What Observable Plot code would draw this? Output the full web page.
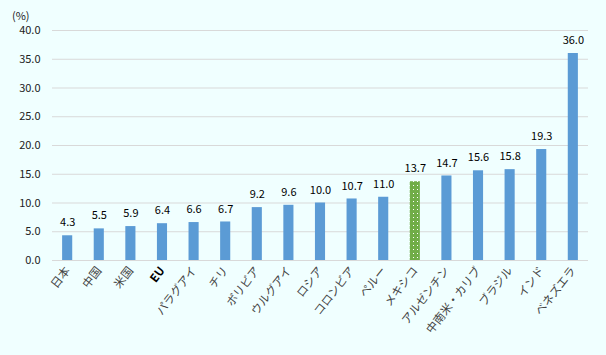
<!DOCTYPE html>
<html><head><meta charset="utf-8">
<script src="https://cdn.jsdelivr.net/npm/d3@7"></script>
<script src="https://cdn.jsdelivr.net/npm/@observablehq/plot@0.6"></script>
<style>
html,body{margin:0;padding:0;background:#f0ffff;}
#chart{position:relative;width:606px;height:355px;}
#unit{position:absolute;left:12px;top:7px;font:11px "Noto Sans CJK JP",sans-serif;color:#222;}
</style></head>
<body><div id="chart"><div id="unit">(%)</div></div>
<script>
const categories = ["日本","中国","米国","EU","パラグアイ","チリ","ボリビア","ウルグアイ","ロシア","コロンビア","ペルー","メキシコ","アルゼンチン","中南米・カリブ","ブラジル","インド","ベネズエラ"];
const values = [4.3,5.5,5.9,6.4,6.6,6.7,9.2,9.6,10.0,10.7,11.0,13.7,14.7,15.6,15.8,19.3,36.0];
const yTicks = [0,5,10,15,20,25,30,35,40];
const highlight = "メキシコ";
const data = categories.map((c,i)=>({c, v: values[i], hl: c===highlight}));
const font = '"Noto Sans CJK JP", sans-serif';
const plot = Plot.plot({
  width: 606, height: 355,
  marginTop: 30, marginBottom: 95, marginLeft: 52, marginRight: 18,
  style: {background: "transparent", fontFamily: font, fontSize: "11px", color: "#222"},
  x: {domain: categories, round: false, paddingInner: 0.68, paddingOuter: 0.32, label: null, tickSize: 0, tickRotate: -52, tickPadding: 8},
  y: {domain: [0, 40], ticks: yTicks, tickFormat: d => d.toFixed(1), label: null, tickSize: 0, tickPadding: 12},
  marks: [
    Plot.gridY(yTicks, {stroke: "#d9d9d9", strokeOpacity: 1}),
    Plot.barY(data, {x: "c", y: "v", fill: d => d.hl ? "url(#dots)" : "#5b9bd5"}),
    Plot.text(data, {x: "c", y: "v", text: d => d.v.toFixed(1), dy: -13, fill: "#000", fontSize: 11}),
    Plot.ruleY([0], {stroke: "#d9d9d9"})
  ]
});
const svg = d3.select(plot);
const defs = svg.insert("defs", ":first-child");
const pat = defs.append("pattern").attr("id","dots").attr("patternUnits","userSpaceOnUse").attr("width",4).attr("height",4);
pat.append("rect").attr("width",4).attr("height",4).attr("fill","#70ad47");
pat.append("rect").attr("x",1).attr("y",1).attr("width",1).attr("height",1).attr("fill","#ffffff");
svg.selectAll("g[aria-label='x-axis tick label'] text").attr("fill", function(){ return this.textContent==="EU" ? "#000" : "#444"; })
  .attr("font-weight", function(){ return this.textContent==="EU" ? "bold" : null; })
  .attr("font-size", "11.5px");
svg.selectAll("g[aria-label='y-axis tick label'] text").attr("fill","#222");
document.getElementById("chart").appendChild(plot);
plot.style.position="absolute"; plot.style.left="0"; plot.style.top="0";
</script></body></html>
